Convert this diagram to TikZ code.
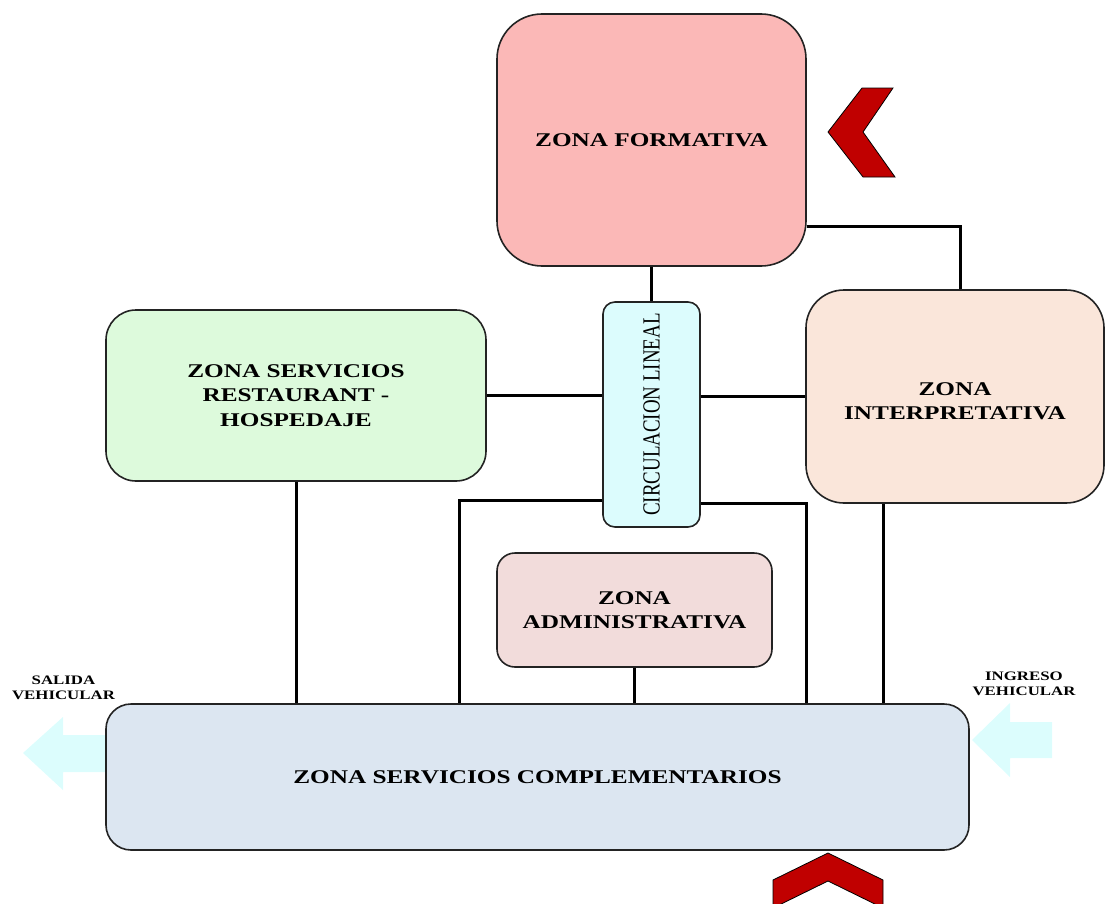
\documentclass[tikz,border=0pt]{standalone}
\usepackage{fontspec}
\usepackage{graphicx}
\setmainfont{Liberation Serif}[FakeStretch=1.3]
\newfontfamily\circfont{Liberation Serif}
\definecolor{cform}{RGB}{251,184,183}
\definecolor{crest}{RGB}{221,250,220}
\definecolor{ccirc}{RGB}{220,252,253}
\definecolor{cinterp}{RGB}{250,230,218}
\definecolor{cadmin}{RGB}{242,220,219}
\definecolor{ccomp}{RGB}{220,230,241}
\definecolor{cborder}{RGB}{35,35,35}
\definecolor{cchev}{RGB}{192,0,0}
\definecolor{carrow}{RGB}{220,253,253}
\tikzset{
  zone/.style={draw=cborder, line width=1.6bp, align=center, inner sep=2bp,
    font=\bfseries\fontsize{19.5}{24.5}\selectfont},
  conn/.style={draw=black, line width=3bp},
  chev/.style={fill=cchev, draw=black, line width=0.8bp, line join=miter},
  vehic/.style={fill=carrow, draw=none},
  small/.style={align=center, font=\bfseries\fontsize{13}{15.5}\selectfont, inner sep=0pt}
}
\begin{document}
\begin{tikzpicture}[x=1bp, y=-1bp]
\useasboundingbox (0,0) rectangle (1105,904);
\clip (0,0) rectangle (1105,904);

% vehicle arrows (behind the bottom box)
\fill[vehic] (108,735) -- (63,735) -- (63,717) -- (23,753) -- (63,790) -- (63,772) -- (108,772) -- cycle;
\fill[vehic] (1052,722) -- (1010,722) -- (1010,703) -- (972,740) -- (1010,777) -- (1010,758) -- (1052,758) -- cycle;

% zones
\node[zone, fill=cform, minimum width=309bp, minimum height=252bp, rounded corners=45bp] (form) at (651.5,140) {ZONA FORMATIVA};
\node[zone, fill=ccirc, minimum width=97bp, minimum height=225bp, rounded corners=12bp, inner sep=0pt] (circ) at (651.5,414.5)
  {\scalebox{1.3}[1]{\rotatebox{90}{\circfont\mdseries\fontsize{19}{23}\selectfont CIRCULACION LINEAL}}};
\node[zone, fill=crest, minimum width=380bp, minimum height=171bp, rounded corners=30bp] (rest) at (296,395.5)
  {ZONA SERVICIOS\\RESTAURANT -\\HOSPEDAJE};
\node[zone, fill=cinterp, minimum width=298bp, minimum height=213bp, rounded corners=38bp] (interp) at (955,396.5)
  {\raisebox{-11bp}[0pt][0pt]{\begin{tabular}{@{}c@{}}ZONA\\INTERPRETATIVA\end{tabular}}};
\node[zone, fill=cadmin, minimum width=275bp, minimum height=114bp, rounded corners=18bp] (admin) at (634.5,610)
  {ZONA\\ADMINISTRATIVA};
\node[zone, fill=ccomp, minimum width=863bp, minimum height=146bp, rounded corners=25bp] (comp) at (537.5,777)
  {ZONA SERVICIOS COMPLEMENTARIOS};

% connectors
\draw[conn] (form.south) -- (circ.north);
\draw[conn] ([yshift=-86bp]form.east) -| ([xshift=5bp]interp.north);
\draw[conn] (rest.east) -- (rest.east -| circ.west);
\draw[conn] (circ.east |- interp.west) -- (interp.west);
\draw[conn] (rest.south) -- (rest.south |- comp.north);
\draw[conn] ([yshift=-85.5bp]circ.west) -| ([xshift=-78.5bp]comp.north);
\draw[conn] ([yshift=-88.5bp]circ.east) -| ([xshift=268.5bp]comp.north);
\draw[conn] (admin.south) -- (admin.south |- comp.north);
\draw[conn] ([xshift=-72bp]interp.south) -- ([xshift=-72bp]interp.south |- comp.north);

% chevrons
\draw[chev] (893,88) -- (862,88) -- (828,132) -- (863,177) -- (895,177) -- (863,132) -- cycle;
\draw[chev] (828,853) -- (883,880) -- (883,908) -- (828,881) -- (773,908) -- (773,880) -- cycle;

% labels
\node[small] (salida) at (63.5,688) {SALIDA\\VEHICULAR};
\node[small] (ingreso) at (1024,684) {INGRESO\\VEHICULAR};
\end{tikzpicture}
\end{document}
